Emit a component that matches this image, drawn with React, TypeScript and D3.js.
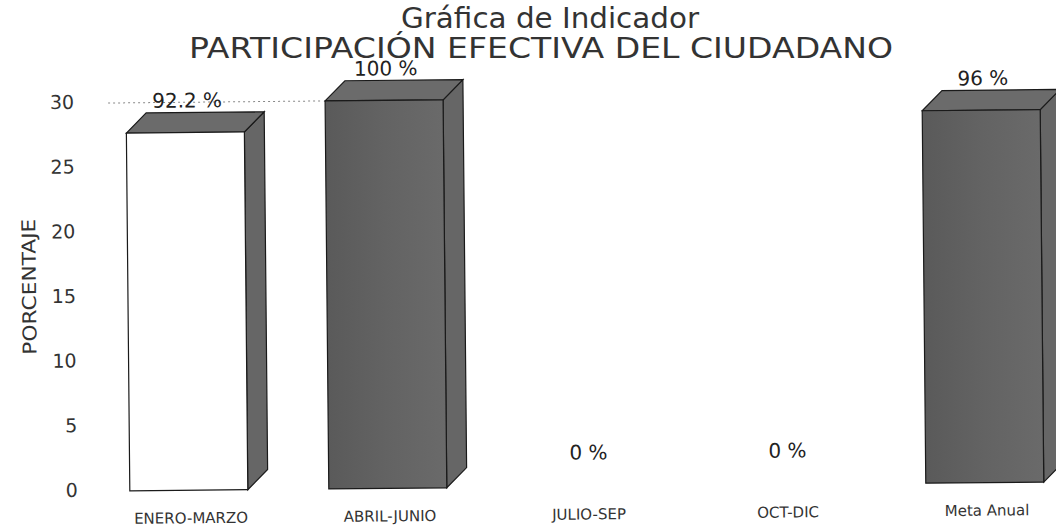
import * as d3 from "d3";

const categories = ["ENERO-MARZO", "ABRIL-JUNIO", "JULIO-SEP", "OCT-DIC", "Meta Anual"];
const values = [92.2, 100, 0, 0, 96];
const valueLabels = ["92.2 %", "100 %", "0 %", "0 %", "96 %"];
const frontFills = ["#ffffff", "url(#barGrad)", "url(#barGrad)", "url(#barGrad)", "url(#barGrad)"];
const axisTicks = [0, 5, 10, 15, 20, 25, 30];

const width = 1056;
const height = 527;
const depth = 20;
const barW = 118;

export default function App() {
  const x = d3.scalePoint<string>().domain(categories).range([187, 983]);
  // bars use the percent values, the axis shows the 0-30 labels on the same pixel range
  const yPct = d3.scaleLinear().domain([0, 100]).range([487, 99]);
  const yAxis = d3.scaleLinear().domain([0, 30]).range([487, 99]);
  const base = yPct(0);

  return (
    <svg
      width={width}
      height={height}
      style={{ position: "absolute", left: 0, top: 0, background: "#fff" }}
      fontFamily="DejaVu Sans, sans-serif"
    >
      <defs>
        <linearGradient id="barGrad" x1="0" x2="1" y1="0" y2="0">
          <stop offset="0%" stopColor="#5a5a5a" />
          <stop offset="50%" stopColor="#636363" />
          <stop offset="100%" stopColor="#6a6a6a" />
        </linearGradient>
      </defs>

      {/* Title */}
      <text x={550} y={28} textAnchor="middle" fontSize="28" fill="#333" textLength={298} lengthAdjust="spacingAndGlyphs">
        Gráfica de Indicador
      </text>
      <text x={541} y={58} textAnchor="middle" fontSize="28" fill="#333" textLength={704} lengthAdjust="spacingAndGlyphs">
        PARTICIPACIÓN EFECTIVA DEL CIUDADANO
      </text>

      {/* the scanned chart is slightly tilted */}
      <g transform="rotate(-0.55, 528, 300)">
        {/* faint gridline at top */}
        <line x1={110} x2={322} y1={yAxis(30)} y2={yAxis(30)} stroke="#888" strokeDasharray="2 3" />

        {/* Y ticks */}
        {axisTicks.map(t => (
          <text key={t} x={76} y={yAxis(t)} textAnchor="end" dominantBaseline="middle" fontSize="19" fill="#333">
            {t}
          </text>
        ))}
        <text
          transform={`translate(36, 282) rotate(-90)`}
          textAnchor="middle"
          fontSize="19"
          fill="#333"
          textLength={136}
          lengthAdjust="spacingAndGlyphs"
        >
          PORCENTAJE
        </text>

        {/* Bars */}
        {categories.map((c, i) => {
          const cx = x(c) as number;
          const l = cx - barW / 2;
          const r = cx + barW / 2;
          const top = yPct(values[i]);
          if (values[i] <= 0) return null;
          return (
            <g key={c} stroke="#1a1a1a" strokeWidth={1.2}>
              <path
                d={`M${r},${top} L${r + depth},${top - depth} L${r + depth},${base - depth} L${r},${base} Z`}
                fill="#666"
              />
              <path
                d={`M${l},${top} L${l + depth},${top - depth} L${r + depth},${top - depth} L${r},${top} Z`}
                fill="#6b6b6b"
              />
              <rect x={l} y={top} width={barW} height={base - top} fill={frontFills[i]} />
            </g>
          );
        })}

        {/* Value labels */}
        {categories.map((c, i) => {
          const cx = (x(c) as number) + 2;
          const top = yPct(values[i]);
          const yLab = values[i] > 0 ? top - depth - 5 : base - 27;
          return (
            <text key={c} x={cx} y={yLab} textAnchor="middle" fontSize="20" fill="#222">
              {valueLabels[i]}
            </text>
          );
        })}

        {/* Category labels */}
        {categories.map(c => (
          <text key={c} x={(x(c) as number) + 2} y={520} textAnchor="middle" fontSize="15" fill="#333">
            {c}
          </text>
        ))}
      </g>
    </svg>
  );
}
